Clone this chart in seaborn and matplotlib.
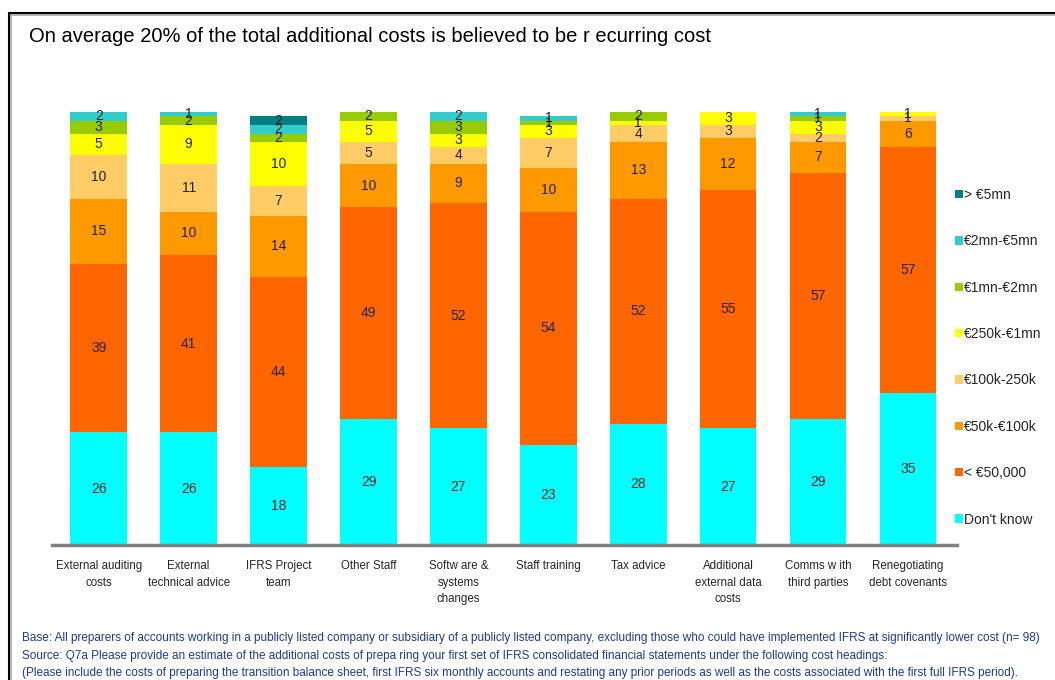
import matplotlib
matplotlib.use("Agg")
import matplotlib.pyplot as plt
from matplotlib.patches import Patch, Rectangle
import numpy as np
import pandas as pd
import seaborn as sns

# categorias (eixo x) e faixas de custo (pilhas, de baixo para cima)
categorias = ["External auditing\ncosts", "External\ntechnical advice", "IFRS Project\nteam",
              "Other Staff", "Softw are &\nsystems\nchanges", "Staff training", "Tax advice",
              "Additional\nexternal data\ncosts", "Comms w ith\nthird parties",
              "Renegotiating\ndebt covenants"]
faixas = ["Don't know", "< €50,000", "€50k-€100k", "€100k-250k", "€250k-€1mn",
          "€1mn-€2mn", "€2mn-€5mn", "> €5mn"]

nao_sabe     = [26, 26, 18, 29, 27, 23, 28, 27, 29, 35]
ate_50k      = [39, 41, 44, 49, 52, 54, 52, 55, 57, 57]
de_50k_100k  = [15, 10, 14, 10, 9, 10, 13, 12, 7, 6]
de_100k_250k = [10, 11, 7, 5, 4, 7, 4, 3, 2, 1]
de_250k_1mn  = [5, 9, 10, 5, 3, 3, 1, 3, 3, 1]
de_1mn_2mn   = [3, 2, 2, 2, 3, 1, 2, 0, 1, 0]
de_2mn_5mn   = [2, 1, 2, 0, 2, 1, 0, 0, 1, 0]
acima_5mn    = [0, 0, 2, 0, 0, 0, 0, 0, 0, 0]

cores = ["#00FFFF", "#FF6600", "#FF9900", "#FFCC66", "#FFFF00", "#99CC00", "#33CCCC", "#008080"]

titulo = "On average 20% of the total additional costs is believed to be r ecurring cost"
rodape = [
    "Base: All preparers of accounts working in a publicly listed company or subsidiary of a publicly listed company, excluding those who could have implemented IFRS at significantly lower cost (n= 98)",
    "Source: Q7a Please provide an estimate of the additional costs of prepa ring your first set of IFRS consolidated financial statements under the following cost headings:",
    "(Please include the costs of preparing the transition balance sheet, first IFRS six monthly accounts and restating any prior periods as well as the costs associated with the first full IFRS period).",
]

sns.set_theme(style="white")
plt.rcParams["font.family"] = ["Liberation Sans", "DejaVu Sans"]

camadas = [nao_sabe, ate_50k, de_50k_100k, de_100k_250k, de_250k_1mn, de_1mn_2mn, de_2mn_5mn, acima_5mn]
valores = np.array(camadas)
acumulado = valores.cumsum(axis=0)

fig = plt.figure(figsize=(10.55, 6.8), dpi=100)
ax = fig.add_axes([52 / 1055, 135 / 680, 905 / 1055, 433 / 680])

# barras empilhadas: desenha do acumulado maior para o menor
for i in range(len(faixas) - 1, -1, -1):
    df = pd.DataFrame({"categoria": categorias, "valor": acumulado[i]})
    sns.barplot(data=df, x="categoria", y="valor", order=categorias, color=cores[i],
                saturation=1, width=0.63, errorbar=None, linewidth=0, ax=ax)

# rótulos dentro dos segmentos
for i in range(len(faixas)):
    base = acumulado[i] - valores[i]
    for j, v in enumerate(valores[i]):
        if v > 0:
            ax.text(j, base[j] + v / 2, str(v), ha="center", va="center",
                    fontsize=10, color="#222222")

ax.set_ylim(0, 100)
ax.set_xlim(-0.52, 9.545)
ax.set_xlabel("")
ax.set_ylabel("")
ax.set_yticks([])
ax.tick_params(axis="x", length=0, pad=11, labelsize=8.3)
for lbl in ax.get_xticklabels():
    lbl.set_linespacing(1.5)
    lbl.set_verticalalignment("top")
for lado in ["top", "right", "left"]:
    ax.spines[lado].set_visible(False)
ax.spines["bottom"].set_color("#808080")
ax.spines["bottom"].set_linewidth(2.5)

# legenda (ordem inversa: do topo para baixo)
handles = [Patch(facecolor=cores[i], edgecolor="none", label=faixas[i])
           for i in range(len(faixas) - 1, -1, -1)]
fig.legend(handles=handles, loc="upper left", bbox_to_anchor=(955 / 1055, 1 - 188 / 680),
           frameon=False, fontsize=10, handlelength=0.55, handleheight=0.55,
           handletextpad=0.12, labelspacing=2.33, borderpad=0, borderaxespad=0)

fig.text(29 / 1055, 1 - 36 / 680, titulo, fontsize=14.5, ha="left", va="center", color="black")

for k, linha in enumerate(rodape):
    fig.text(22 / 1055, 1 - (638 + 17.5 * k) / 680, linha, fontsize=8.5,
             ha="left", va="center", color="#1f3a8f")

# moldura
fig.patches.append(Rectangle((11 / 1055, -0.05), 1.2, 1 - 15 / 680 + 0.05,
                             transform=fig.transFigure, fill=False, edgecolor="#aaaaaa",
                             linewidth=1.2))
fig.patches.append(Rectangle((9 / 1055, -0.05), 1.2, 1 - 13 / 680 + 0.05,
                             transform=fig.transFigure, fill=False, edgecolor="black",
                             linewidth=1.5))

fig.savefig("out.png", dpi=100)
